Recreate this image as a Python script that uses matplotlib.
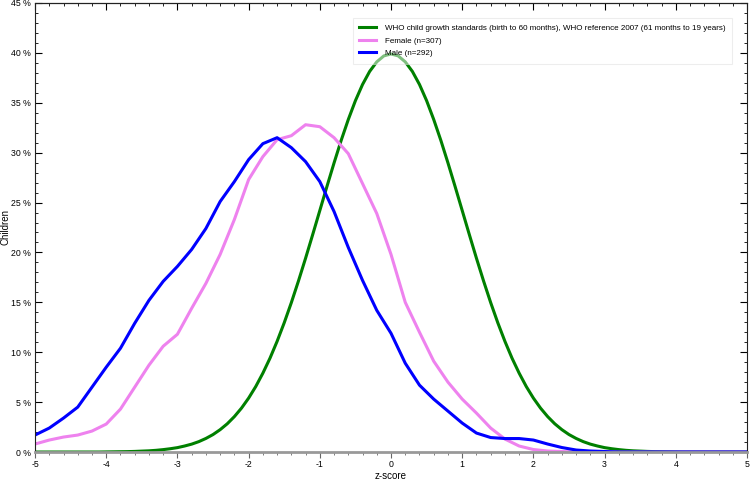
import matplotlib
matplotlib.use("Agg")
import matplotlib.pyplot as plt
from matplotlib.ticker import MultipleLocator, FuncFormatter

# z-score grid of the survey curves (0.2 steps)
z_survey = [-5.0, -4.8, -4.6, -4.4, -4.2, -4.0, -3.8, -3.6, -3.4, -3.2, -3.0,
            -2.8, -2.6, -2.4, -2.2, -2.0, -1.8, -1.6, -1.4, -1.2, -1.0,
            -0.8, -0.6, -0.4, -0.2, 0.0, 0.2, 0.4, 0.6, 0.8, 1.0,
            1.2, 1.4, 1.6, 1.8, 2.0, 2.2, 2.4, 2.6, 2.8, 3.0,
            3.2, 3.4, 3.6, 3.8, 4.0, 4.2, 4.4, 4.6, 4.8, 5.0]

female = [0.8, 1.2, 1.5, 1.7, 2.1, 2.8, 4.3, 6.5, 8.7, 10.6, 11.8,
          14.4, 16.9, 19.8, 23.3, 27.3, 29.6, 31.3, 31.7, 32.8, 32.6,
          31.5, 29.9, 26.9, 23.9, 19.8, 15.0, 12.0, 9.1, 7.0, 5.3,
          3.9, 2.4, 1.3, 0.6, 0.25, 0.1, 0.05, 0.0, 0.0, 0.0,
          0.0, 0.0, 0.0, 0.0, 0.0, 0.0, 0.0, 0.0, 0.0, 0.0]

male = [1.7, 2.4, 3.4, 4.5, 6.5, 8.5, 10.4, 12.9, 15.2, 17.1, 18.6,
        20.3, 22.4, 25.1, 27.1, 29.3, 30.9, 31.5, 30.5, 29.1, 27.1,
        24.1, 20.5, 17.2, 14.2, 11.9, 8.9, 6.7, 5.3, 4.1, 2.9,
        1.9, 1.45, 1.35, 1.35, 1.2, 0.8, 0.45, 0.2, 0.1, 0.05,
        0.0, 0.0, 0.0, 0.0, 0.0, 0.0, 0.0, 0.0, 0.0, 0.0]

# WHO reference curve (0.1 steps)
z_who = [round(-5 + 0.1 * i, 1) for i in range(101)]
who = [0.00, 0.00, 0.00, 0.00, 0.00, 0.00, 0.00, 0.00, 0.00, 0.00,
       0.01, 0.02, 0.03, 0.04, 0.06, 0.09, 0.12, 0.17, 0.24, 0.33,
       0.44, 0.60, 0.79, 1.04, 1.36, 1.75, 2.24, 2.83, 3.55, 4.40,
       5.40, 6.56, 7.90, 9.40, 11.09, 12.95, 14.97, 17.14, 19.42, 21.79,
       24.20, 26.61, 28.97, 31.23, 33.32, 35.21, 36.83, 38.14, 39.10, 39.70,
       39.89,
       39.70, 39.10, 38.14, 36.83, 35.21, 33.32, 31.23, 28.97, 26.61, 24.20,
       21.79, 19.42, 17.14, 14.97, 12.95, 11.09, 9.40, 7.90, 6.56, 5.40,
       4.40, 3.55, 2.83, 2.24, 1.75, 1.36, 1.04, 0.79, 0.60, 0.44,
       0.33, 0.24, 0.17, 0.12, 0.09, 0.06, 0.04, 0.03, 0.02, 0.01,
       0.00, 0.00, 0.00, 0.00, 0.00, 0.00, 0.00, 0.00, 0.00, 0.00]

labels = ["WHO child growth standards (birth to 60 months), WHO reference 2007 (61 months to 19 years)",
          "Female (n=307)", "Male (n=292)"]

plt.rcParams['font.family'] = ['Liberation Sans', 'DejaVu Sans']

fig = plt.figure(figsize=(7.5, 4.8), dpi=100)
ax = fig.add_axes([0.0467, 0.0583, 0.9493, 0.9355])

ax.plot(z_who, who, color='green', lw=2.2, label=labels[0])
ax.plot(z_survey, female, color='violet', lw=2.2, label=labels[1])
ax.plot(z_survey, male, color='blue', lw=2.2, label=labels[2])

ax.set_xlim(-5, 5)
ax.set_ylim(0, 45)
ax.xaxis.set_major_locator(MultipleLocator(1))
ax.xaxis.set_minor_locator(MultipleLocator(0.2))
ax.yaxis.set_major_locator(MultipleLocator(5))
ax.yaxis.set_minor_locator(MultipleLocator(1))
ax.yaxis.set_major_formatter(FuncFormatter(lambda v, p: "%d %%" % v))
ax.xaxis.set_major_formatter(FuncFormatter(lambda v, p: "%d" % v))

ax.tick_params(axis='y', which='both', direction='in', right=True, labelsize=6.3, pad=3)
ax.tick_params(axis='y', which='major', length=5, width=0.8)
ax.tick_params(axis='y', which='minor', length=2.5, width=0.6)
ax.tick_params(axis='x', which='both', direction='out', bottom=True, top=False, labelsize=6.3, pad=2)
ax.tick_params(axis='x', which='major', length=4, width=0.8, color='#666666')
ax.tick_params(axis='x', which='minor', length=2, width=0.6, color='#666666')
top = ax.secondary_xaxis('top')
top.xaxis.set_major_locator(MultipleLocator(1))
top.xaxis.set_minor_locator(MultipleLocator(0.2))
top.tick_params(which='both', direction='in', labeltop=False)
top.tick_params(which='major', length=5, width=0.8)
top.tick_params(which='minor', length=2.5, width=0.6)

for s in ['left', 'right', 'top']:
    ax.spines[s].set_linewidth(0.8)
    ax.spines[s].set_color('#222222')
ax.spines['bottom'].set_color('#999999')
ax.spines['bottom'].set_linewidth(2)

ax.set_xlabel("z-score", fontsize=7)
ax.set_ylabel("Children", fontsize=7)
ax.xaxis.set_label_coords(0.5, -0.053)
ax.yaxis.set_label_coords(-0.041, 0.5)
ax.xaxis.label.set_va('center')
ax.yaxis.label.set_va('center')

leg = ax.legend(loc='upper right', bbox_to_anchor=(0.985, 0.975), fontsize=5.8, frameon=True,
                fancybox=False, edgecolor='#dddddd', framealpha=0.5, handlelength=2.0,
                borderpad=0.8, labelspacing=0.6, handletextpad=1.2)
leg.get_frame().set_linewidth(0.8)

fig.savefig("out.png", dpi=100)
